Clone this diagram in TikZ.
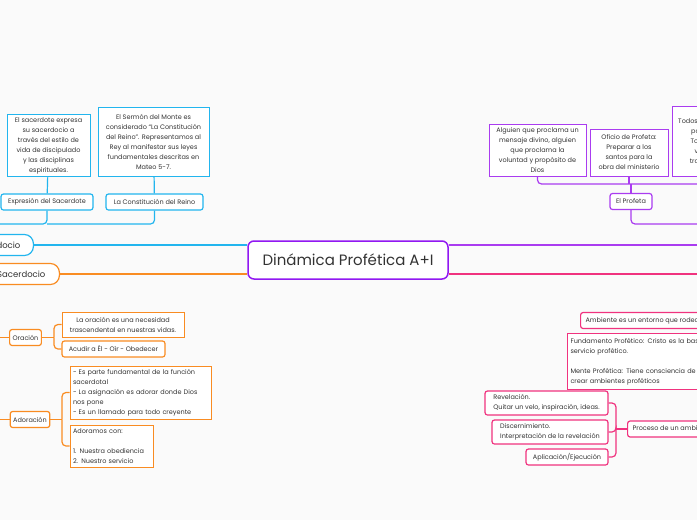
\documentclass[tikz,border=0pt]{standalone}
\usepackage{fontspec}
\setmainfont{Poppins}
\definecolor{ink}{HTML}{333333}
\definecolor{cblue}{HTML}{22B5EE}
\definecolor{corange}{HTML}{F98C22}
\definecolor{cviolet}{HTML}{9118F2}
\definecolor{cpurple}{HTML}{AA3CF0}
\definecolor{cpink}{HTML}{F0337F}
\tikzset{
  every node/.style={font=\fontsize{6.5}{10}\selectfont, text=ink},
  rootbox/.style={draw=cviolet, line width=1.5pt, rounded corners=6pt, fill=white, minimum width=200pt, minimum height=38pt, font=\fontsize{15}{18}\selectfont},
  mainbox/.style={draw=#1, line width=1.2pt, rounded corners=9pt, fill=white, minimum height=21pt, font=\fontsize{8.5}{11}\selectfont},
  subbox/.style={draw=#1, line width=1.2pt, rounded corners=2.5pt, fill=white, minimum height=16pt, inner xsep=3pt, inner ysep=1pt},
  notebox/.style={draw=#1, line width=1pt, fill=white, inner sep=3pt},
  link/.style={draw=#1, line width=1.2pt, rounded corners=4pt},
}
\begin{document}
\begin{tikzpicture}[x=1pt, y=-1pt]
\fill[white!98!black] (0,0) rectangle (697,520);
\useasboundingbox (0,0) rectangle (697,520);
\clip (0,0) rectangle (697,520);
\node[rootbox] (root) at (348,260) {Dinámica Profética A+I};
\node[mainbox=cblue, anchor=east, inner xsep=13pt] (sac1) at (34,245) {Sacerdocio};
\node[mainbox=corange, anchor=east, inner xsep=14pt] (sac2) at (60,274) {Sacerdocio};
\coordinate (pr1) at (700,245);
\coordinate (pr2) at (700,274);
\draw[link=cblue] (sac1.east) -- (sac1.east -| root.west);
\draw[link=corange] (sac2.east) -- (sac2.east -| root.west);
\draw[link=cpurple] (pr1 -| root.east) -- (pr1);
\draw[link=cpink] (pr2 -| root.east) -- (pr2);
\node[subbox=cblue, minimum width=92pt] (expr) at (47,202) {Expresión del Sacerdote};
\node[subbox=cblue, minimum width=97pt] (const) at (154.5,202) {La Constitución del Reino};
\node[notebox=cblue, minimum width=83pt, minimum height=61pt, align=center] (exprtxt) at (48.5,145.5) {El sacerdote expresa\\su sacerdocio a\\través del estilo de\\vida de discipulado\\y las disciplinas\\espirituales.};
\node[notebox=cblue, minimum width=111pt, minimum height=69pt, align=center] (consttxt) at (153.5,141.5) {El Sermón del Monte es\\considerado ``La Constitución\\del Reino''. Representamos al\\Rey al manifestar sus leyes\\fundamentales descritas en\\Mateo 5-7.};
\coordinate (bl) at (-5,224);
\draw[link=cblue] (exprtxt) -- (expr);
\draw[link=cblue] (consttxt) -- (const);
\draw[link=cblue] (bl) -| (expr.south);
\draw[link=cblue] (expr.south |- bl) -| (const.south);
\node[subbox=corange] (orac) at (25.5,337.5) {Oración};
\node[notebox=corange, minimum width=122pt, minimum height=25pt, align=center] (orac1) at (123,324.5) {La oración es una necesidad\\trascendental en nuestras vidas.};
\node[subbox=corange, minimum width=103pt] (orac2) at (113.5,349) {Acudir a Él - Oír - Obedecer};
\coordinate (ol) at (-5,337.5);
\coordinate (ob) at (54,337.5);
\draw[link=corange] (ol) -- (orac);
\draw[link=corange] (orac) -- (ob);
\draw[link=corange] (ob) |- (orac1.west);
\draw[link=corange] (ob) |- (orac2.west);
\node[subbox=corange] (ador) at (30,419.5) {Adoración};
\node[notebox=corange, text width=135pt, minimum height=53pt, align=left] (ador1) at (140.5,392.5) {- Es parte fundamental de la función sacerdotal\\- La asignación es adorar donde Dios nos pone\\- Es un llamado para todo creyente};
\node[notebox=corange, text width=77pt, minimum height=42pt, align=left] (ador2) at (111.5,446) {Adoramos con:\\[10pt]1. Nuestra obediencia\\2. Nuestro servicio};
\coordinate (al) at (-5,419.5);
\coordinate (ab) at (62,419.5);
\draw[link=corange] (al) -- (ador);
\draw[link=corange] (ador) -- (ab);
\draw[link=corange] (ab) |- (ador1.west);
\draw[link=corange] (ab) |- (ador2.west);
\node[subbox=cpurple, minimum width=42pt] (profeta) at (631,201.5) {El Profeta};
\node[notebox=cpurple, minimum width=97pt, minimum height=52pt, align=center] (prof1) at (537.5,150) {Alguien que proclama un\\mensaje divino, alguien\\que proclama la\\voluntad y propósito de\\Dios};
\node[notebox=cpurple, minimum width=78pt, minimum height=47pt, align=center] (prof2) at (629,152.5) {Oficio de Profeta:\\Preparar a los\\santos para la\\obra del ministerio};
\node[notebox=cpurple, minimum width=88pt, minimum height=70pt, align=center] (prof3) at (716,141) {Todos somos llamados\\para profetizar.\\Todos somos la\\voz de Dios a\\través de Cristo.};
\coordinate (pt) at (700,224);
\coordinate (pu) at (700,184);
\draw[link=cpurple] (profeta.south) |- (pt);
\draw[link=cpurple] (prof1.south) |- (pu);
\draw[link=cpurple] (prof2.south) -- (prof2.south |- pu);
\draw[link=cpurple] (prof3.south) -- (prof3.south |- pu);
\draw[link=cpurple] (profeta.north) -- (profeta.north |- pu);
\node[subbox=cpink, anchor=west, inner xsep=5pt] (amb) at (580,320.5) {Ambiente es un entorno que rodea};
\node[notebox=cpink, anchor=north west, text width=170pt, minimum height=56pt, align=left] (fund) at (567,333) {Fundamento Profético: Cristo es la base del\\servicio profético.\\[10pt]Mente Profética: Tiene consciencia de cómo\\crear ambientes proféticos};
\node[subbox=cpink, anchor=west, inner xsep=5pt] (proc) at (627,429) {Proceso de un ambiente profético};
\node[notebox=cpink, minimum width=123pt, minimum height=24pt, align=left, rounded corners=2.5pt, line width=1.2pt] (rev) at (546.5,403) {Revelación.\\Quitar un velo, inspiración, ideas.};
\node[notebox=cpink, minimum width=116pt, minimum height=24pt, align=left, rounded corners=2.5pt, line width=1.2pt] (disc) at (550,432) {Discernimiento.\\Interpretación de la revelación};
\node[subbox=cpink, minimum width=82pt] (apl) at (567,457) {Aplicación/Ejecución};
\coordinate (pb) at (616,429);
\draw[link=cpink] (proc) -- (pb);
\draw[link=cpink] (pb) |- (rev.east);
\draw[link=cpink] (pb) |- (disc.east);
\draw[link=cpink] (pb) |- (apl.east);
\end{tikzpicture}
\end{document}
